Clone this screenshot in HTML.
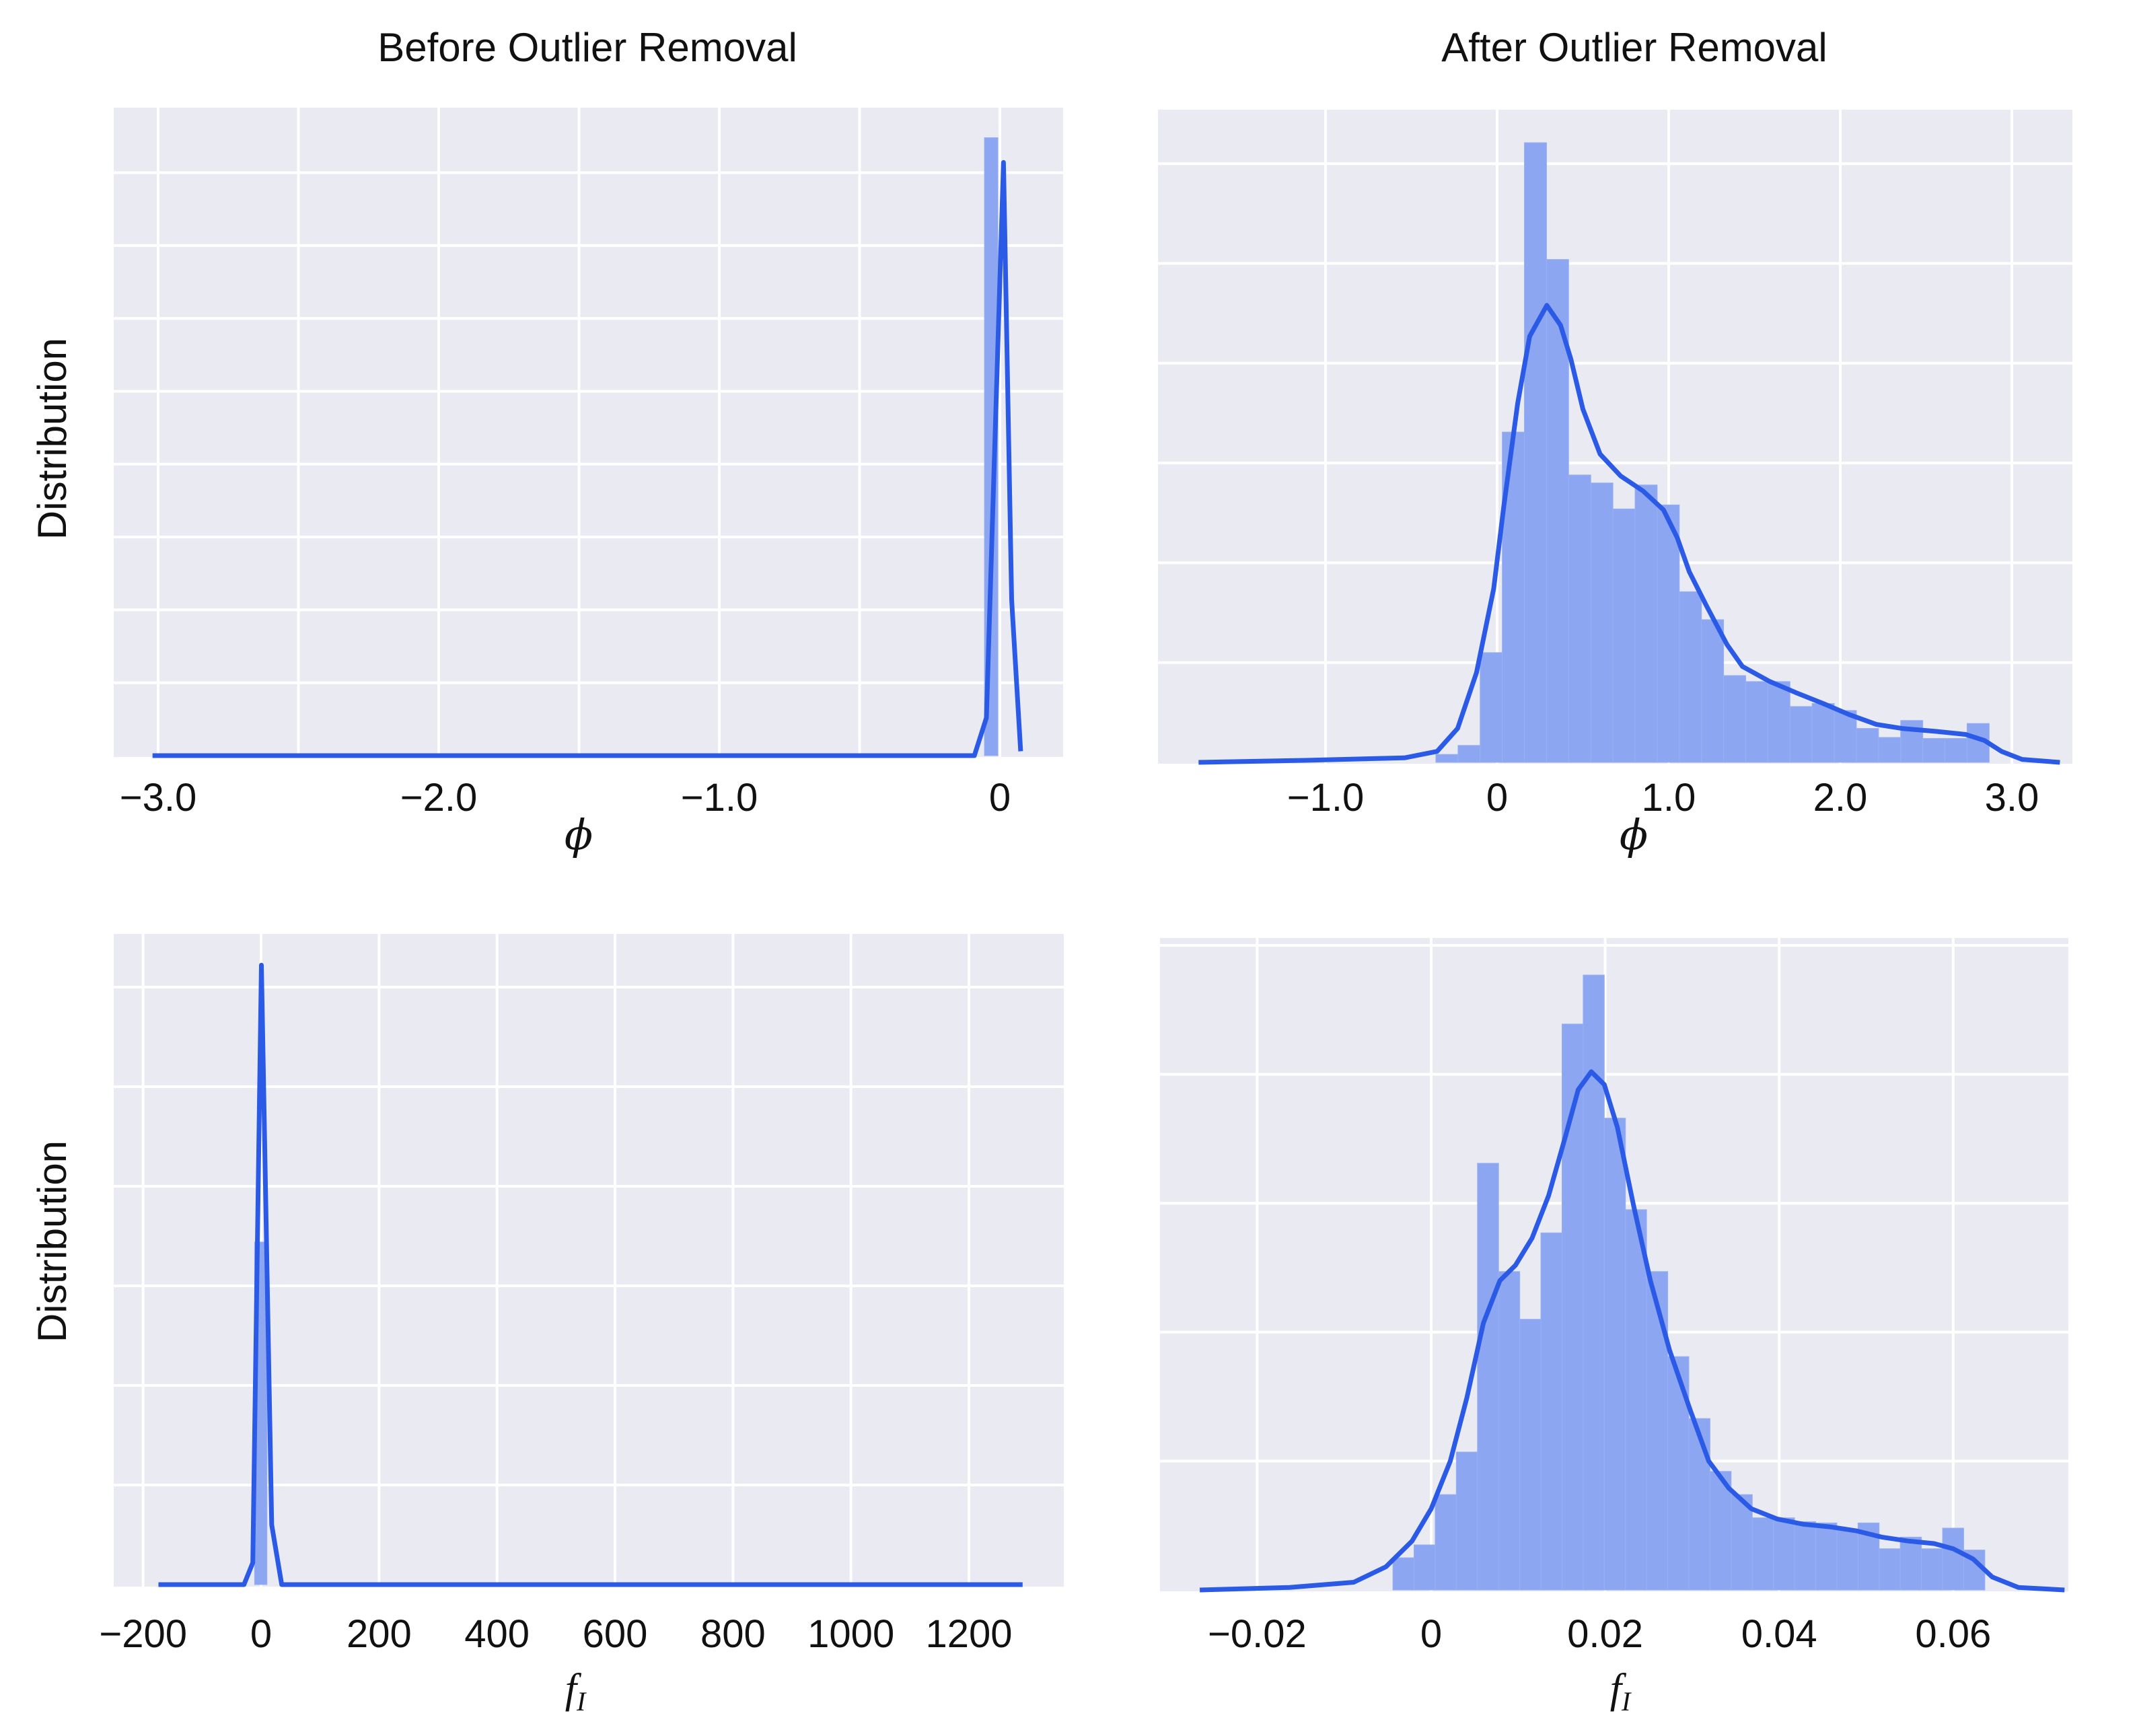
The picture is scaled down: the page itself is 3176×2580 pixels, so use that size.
<!DOCTYPE html>
<html><head><meta charset="utf-8"><style>
html,body{margin:0;padding:0;background:#fff}
svg{display:block}
text{fill:#111}
</style></head><body>
<svg id="fig" width="3176" height="2580" viewBox="0 0 3176 2580" xmlns="http://www.w3.org/2000/svg" font-family="Liberation Sans, sans-serif">
<text x="873" y="91" font-size="60" text-anchor="middle">Before Outlier Removal</text>
<text x="2429" y="91" font-size="60" text-anchor="middle">After Outlier Removal</text>
<text transform="translate(98,652) rotate(-90)" font-size="60" text-anchor="middle">Distribution</text>
<text transform="translate(98,1845) rotate(-90)" font-size="60" text-anchor="middle">Distribution</text>
</svg>
<script>
// ---- Top-left: phi before removal ----
const tlXTicks = [-3.0, -2.0, -1.0, 0];
const tlXTickLabels = ["−3.0", "−2.0", "−1.0", "0"];
const tlXGrid = [-3.0, -2.5, -2.0, -1.5, -1.0, -0.5, 0];
const tlYGrid = [1, 2, 3, 4, 5, 6, 7, 8];
const tlBinEdges = [-0.055, -0.007];
const tlBinHeights = [8.48];
const tlKdeX = [-3.02, -0.091, -0.048, 0.013, 0.042, 0.074];
const tlKdeY = [0, 0, 0.52, 8.14, 2.14, 0.06];

// ---- Top-right: phi after removal ----
const trXTicks = [-1.0, 0, 1.0, 2.0, 3.0];
const trXTickLabels = ["−1.0", "0", "1.0", "2.0", "3.0"];
const trXGrid = [-1, 0, 1, 2, 3];
const trYGrid = [1, 2, 3, 4, 5, 6];
const trBinStart = -0.357;
const trBinWidth = 0.129;
const trBinHeights = [0.08,0.17,1.10,3.31,6.21,5.04,2.88,2.80,2.54,2.78,2.58,1.71,1.43,0.87,0.81,0.81,0.56,0.59,0.52,0.34,0.25,0.42,0.24,0.24,0.39];
const trKdeX = [-1.74,-1.12,-0.54,-0.35,-0.23,-0.12,-0.02,0.04,0.12,0.19,0.29,0.37,0.43,0.50,0.60,0.72,0.85,0.97,1.05,1.12,1.22,1.34,1.43,1.59,1.74,1.90,2.05,2.21,2.36,2.56,2.73,2.84,2.94,3.06,3.28];
const trKdeY = [0,0.02,0.045,0.11,0.34,0.90,1.74,2.58,3.6,4.27,4.58,4.38,4.04,3.54,3.09,2.87,2.72,2.53,2.25,1.91,1.57,1.18,0.96,0.81,0.70,0.59,0.48,0.38,0.34,0.31,0.28,0.22,0.11,0.03,0];

// ---- Bottom-left: fI before removal ----
const blXTicks = [-200, 0, 200, 400, 600, 800, 1000, 1200];
const blXTickLabels = ["−200", "0", "200", "400", "600", "800", "1000", "1200"];
const blXGrid = [-200, 0, 200, 400, 600, 800, 1000, 1200];
const blYGrid = [1, 2, 3, 4, 5, 6];
const blBinEdges = [-11, 10];
const blBinHeights = [3.44];
const blKdeX = [-174, -29, -14, 0.6, 18, 35, 1291];
const blKdeY = [0, 0, 0.22, 6.22, 0.6, 0, 0];

// ---- Bottom-right: fI after removal ----
const brXTicks = [-0.02, 0, 0.02, 0.04, 0.06];
const brXTickLabels = ["−0.02", "0", "0.02", "0.04", "0.06"];
const brXGrid = [-0.02, 0, 0.02, 0.04, 0.06];
const brYGrid = [1, 2, 3, 4, 5];
const brBinStart = -0.0044;
const brBinWidth = 0.00243;
const brBinHeights = [0.25,0.35,0.74,1.07,3.31,2.47,2.10,2.77,4.39,4.77,3.66,2.95,2.47,1.81,1.33,0.92,0.74,0.56,0.56,0.53,0.52,0.47,0.52,0.32,0.41,0.32,0.48,0.31];
const brKdeX = [-0.0266,-0.0163,-0.0089,-0.0052,-0.0022,0,0.0022,0.0041,0.0060,0.0079,0.0097,0.0116,0.0135,0.0154,0.0169,0.0184,0.0199,0.0214,0.0233,0.0252,0.0274,0.0297,0.0319,0.0342,0.0368,0.0398,0.0428,0.0458,0.0488,0.0518,0.0548,0.0578,0.0600,0.0623,0.0645,0.0675,0.0728];
const brKdeY = [0,0.02,0.06,0.18,0.38,0.63,1.0,1.49,2.07,2.40,2.52,2.73,3.06,3.51,3.88,4.02,3.92,3.59,2.97,2.40,1.86,1.41,1.0,0.79,0.63,0.55,0.51,0.49,0.46,0.41,0.38,0.36,0.32,0.24,0.10,0.02,0];

const NS = "http://www.w3.org/2000/svg";
const svg = document.getElementById("fig");
function mk(tag, attrs, parent) {
  const e = document.createElementNS(NS, tag);
  for (const k in attrs) e.setAttribute(k, attrs[k]);
  (parent || svg).appendChild(e);
  return e;
}

function panel(p) {
  const g = mk("g", {});
  
  
  const sx = v => p.x0 + v * p.kx;
  const sy = u => p.y0 - u * p.ky;
  const bg = mk("rect", {x: p.left, y: p.top, width: p.right - p.left, height: p.bottom - p.top, fill: "#eaeaf2"}, g);
  
  
  p.xGrid.forEach(v => {
    const l = mk("line", {x1: sx(v), x2: sx(v), y1: p.top, y2: p.bottom, stroke: "#fff", "stroke-width": 4}, g);
    
    
  });
  p.yGrid.forEach(u => {
    const l = mk("line", {x1: p.left, x2: p.right, y1: sy(u), y2: sy(u), stroke: "#fff", "stroke-width": 4}, g);
    
    
  });
  p.bins.forEach(b => {
    const r = mk("rect", {x: sx(b[0]), y: sy(b[2]), width: sx(b[1]) - sx(b[0]), height: sy(0) - sy(b[2]), fill: "#8ca6f1", stroke: "#98b0f3", "stroke-width": 1}, g);
    
    
  });
  const pts = p.kx_.map((v, i) => sx(v).toFixed(1) + "," + sy(p.ky_[i]).toFixed(1)).join(" ");
  const pl = mk("polyline", {points: pts, fill: "none", stroke: "#2b5be6", "stroke-width": 7, "stroke-linejoin": "round"}, g);
  
  
  p.ticks.forEach((v, i) => {
    const t = mk("text", {x: sx(v), y: p.tickY, "font-size": 58, "text-anchor": "middle"}, g);
    t.textContent = p.tickLabels[i];
    
    
  });
  const xl = mk("text", {x: p.xlabX, y: p.xlabY, "font-size": 62, "text-anchor": "middle", "font-style": "italic", "font-family": p.xlabFont}, g);
  xl.innerHTML = p.xlab;
  
  
}

function binsFromEdges(edges, h) { return h.map((v, i) => [edges[2*i], edges[2*i+1], v]); }
function binsFromStart(s, w, h) { return h.map((v, i) => [s + i*w, s + (i+1)*w, v]); }

panel({name: "panel-phi-before", left: 169, right: 1580, top: 160, bottom: 1125, x0: 1486, kx: 417, y0: 1123, ky: 108.3,
  xGrid: tlXGrid, yGrid: tlYGrid, bins: binsFromEdges(tlBinEdges, tlBinHeights), kx_: tlKdeX, ky_: tlKdeY,
  ticks: tlXTicks, tickLabels: tlXTickLabels, tickY: 1205, xlab: "ϕ", xlabX: 860, xlabY: 1262, xlabFont: "DejaVu Serif, serif"});

panel({name: "panel-phi-after", left: 1721, right: 3080, top: 163, bottom: 1135, x0: 2225, kx: 255, y0: 1133, ky: 148.3,
  xGrid: trXGrid, yGrid: trYGrid, bins: binsFromStart(trBinStart, trBinWidth, trBinHeights), kx_: trKdeX, ky_: trKdeY,
  ticks: trXTicks, tickLabels: trXTickLabels, tickY: 1205, xlab: "ϕ", xlabX: 2428, xlabY: 1262, xlabFont: "DejaVu Serif, serif"});

panel({name: "panel-fi-before", left: 169, right: 1581, top: 1388, bottom: 2358, x0: 388, kx: 0.8767, y0: 2355, ky: 148,
  xGrid: blXGrid, yGrid: blYGrid, bins: binsFromEdges(blBinEdges, blBinHeights), kx_: blKdeX, ky_: blKdeY,
  ticks: blXTicks, tickLabels: blXTickLabels, tickY: 2448, xlab: "f<tspan font-size='40' dy='12'>I</tspan>", xlabX: 855, xlabY: 2530, xlabFont: "Liberation Serif, serif"});

panel({name: "panel-fi-after", left: 1724, right: 3074, top: 1394, bottom: 2365, x0: 2127, kx: 12930, y0: 2363, ky: 191.6,
  xGrid: brXGrid, yGrid: brYGrid, bins: binsFromStart(brBinStart, brBinWidth, brBinHeights), kx_: brKdeX, ky_: brKdeY,
  ticks: brXTicks, tickLabels: brXTickLabels, tickY: 2448, xlab: "f<tspan font-size='40' dy='12'>I</tspan>", xlabX: 2408, xlabY: 2530, xlabFont: "Liberation Serif, serif"});
</script>
</body></html>
